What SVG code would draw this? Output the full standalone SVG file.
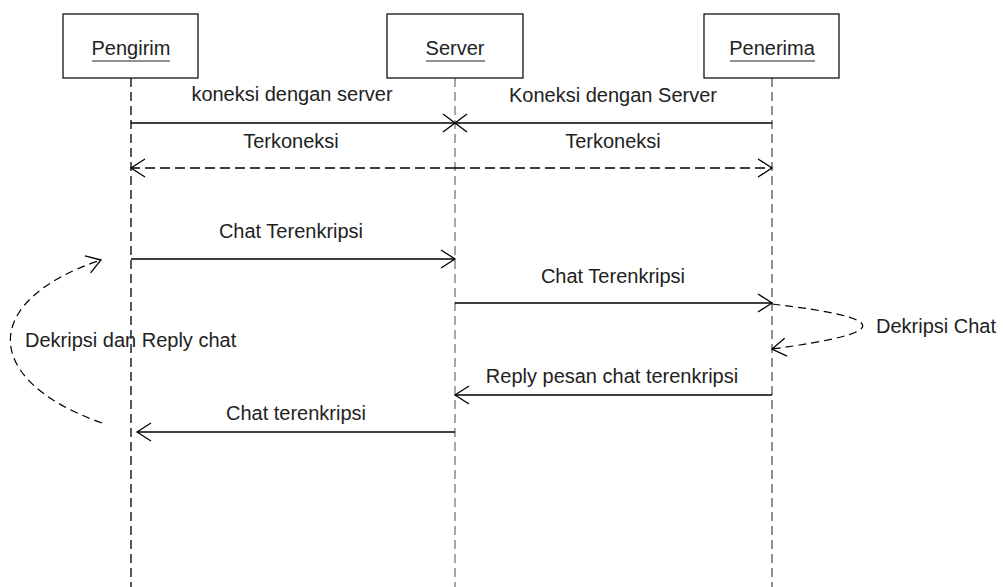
<svg xmlns="http://www.w3.org/2000/svg" width="1003" height="587" viewBox="0 0 1003 587">
  <style>
    .box { fill: #ffffff; stroke: #000000; stroke-width: 1.2; }
    .label { font-family: "Liberation Sans", Arial, sans-serif; font-size: 20px; fill: #222222; }
    .mid { text-anchor: middle; }
    .uline { stroke: #222222; stroke-width: 1.2; }
    .life { fill: none; stroke-width: 1.3; stroke-dasharray: 9 5; }
    .msg { fill: none; stroke: #000000; stroke-width: 1.3; }
    .ret { fill: none; stroke: #000000; stroke-width: 1.3; stroke-dasharray: 10 5; }
    .loop { fill: none; stroke: #000000; stroke-width: 1.2; stroke-dasharray: 8 5; }
  </style>
  <defs>
    <marker id="open" markerUnits="userSpaceOnUse" viewBox="-18 -11 20 22" markerWidth="20" markerHeight="22" refX="0" refY="0" orient="auto">
      <path d="M-14,-9 L0,0 L-14,9" fill="none" stroke="#000000" stroke-width="1.3"/>
    </marker>
  </defs>

  <rect width="1003" height="587" fill="#ffffff"/>

  <!-- lifelines -->
  <g id="lifelines">
    <line class="life" x1="131" y1="78" x2="131" y2="587" stroke="#000000"/>
    <line class="life" x1="455" y1="78" x2="455" y2="587" stroke="#777777"/>
    <line class="life" x1="772" y1="78" x2="772" y2="587" stroke="#555555"/>
  </g>

  <!-- participants -->
  <g id="pengirim">
    <rect class="box" x="63" y="14" width="135" height="64"/>
    <text class="label mid" x="131" y="55">Pengirim</text>
    <line class="uline" x1="92" y1="61" x2="170" y2="61"/>
  </g>
  <g id="server">
    <rect class="box" x="387" y="14" width="136" height="64"/>
    <text class="label mid" x="455" y="55">Server</text>
    <line class="uline" x1="426" y1="61" x2="485" y2="61"/>
  </g>
  <g id="penerima">
    <rect class="box" x="704" y="14" width="135" height="64"/>
    <text class="label mid" x="772" y="55">Penerima</text>
    <line class="uline" x1="730" y1="61" x2="815" y2="61"/>
  </g>

  <!-- messages -->
  <g id="connectors">
    <!-- connection requests meeting at the server -->
    <line class="msg" x1="131" y1="123" x2="455" y2="123"/>
    <line class="msg" x1="772" y1="123" x2="455" y2="123"/>
    <line class="msg" x1="443" y1="114" x2="467" y2="132"/>
    <line class="msg" x1="443" y1="132" x2="467" y2="114"/>

    <!-- connection acknowledgements -->
    <line class="ret" x1="455" y1="168" x2="131" y2="168" marker-end="url(#open)"/>
    <line class="ret" x1="455" y1="168" x2="772" y2="168" marker-end="url(#open)"/>

    <!-- encrypted chat forward -->
    <line class="msg" x1="131" y1="259" x2="455" y2="259" marker-end="url(#open)"/>
    <line class="msg" x1="455" y1="303" x2="772" y2="303" marker-end="url(#open)"/>

    <!-- receiver decrypts -->
    <path class="loop" d="M772,304 C893,318 893,333 772,349" marker-end="url(#open)"/>

    <!-- encrypted reply back -->
    <line class="msg" x1="772" y1="395" x2="455" y2="395" marker-end="url(#open)"/>
    <line class="msg" x1="455" y1="432" x2="137" y2="432" marker-end="url(#open)"/>

    <!-- sender decrypts and replies -->
    <path class="loop" d="M102,423 C-20,380 -20,300 101,260" marker-end="url(#open)"/>
  </g>

  <!-- message labels -->
  <g id="labels">
    <text class="label mid" x="292" y="101">koneksi dengan server</text>
    <text class="label mid" x="613" y="102">Koneksi dengan Server</text>
    <text class="label mid" x="291" y="148">Terkoneksi</text>
    <text class="label mid" x="613" y="148">Terkoneksi</text>
    <text class="label mid" x="291" y="238">Chat Terenkripsi</text>
    <text class="label mid" x="613" y="283">Chat Terenkripsi</text>
    <text class="label" x="876" y="333">Dekripsi Chat</text>
    <text class="label" x="25" y="347">Dekripsi dan Reply chat</text>
    <text class="label mid" x="612" y="383">Reply pesan chat terenkripsi</text>
    <text class="label mid" x="296" y="420">Chat terenkripsi</text>
  </g>
</svg>
